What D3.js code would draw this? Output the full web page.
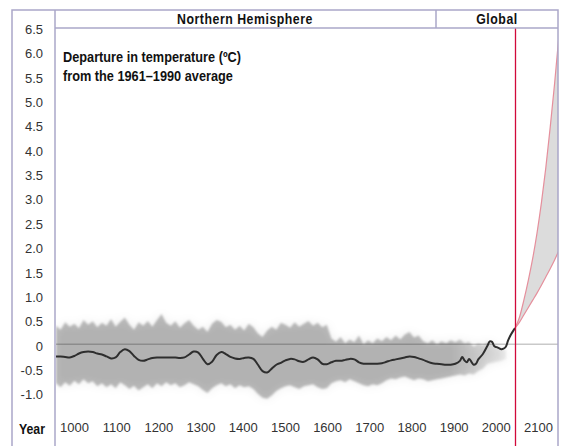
<!DOCTYPE html>
<html>
<head>
<meta charset="utf-8">
<script src="https://cdn.jsdelivr.net/npm/d3@7"></script>
<style>
  body { margin: 0; background: #fff; }
  svg { display: block; }
  .tick text { font-family: "Liberation Sans", Arial, sans-serif; font-size: 13px; fill: #333; }
  .narrow { font-family: "Liberation Sans", Arial, sans-serif; font-weight: bold; fill: #111; }
</style>
</head>
<body>
<svg id="chart" width="561" height="446"></svg>
<script>
// Axis labels
const yearLabels = ["1000", "1100", "1200", "1300", "1400", "1500", "1600", "1700", "1800", "1900", "2000", "2100"];
const yTicks = [6.5, 6.0, 5.5, 5.0, 4.5, 4.0, 3.5, 3.0, 2.5, 2.0, 1.5, 1.0, 0.5, 0, -0.5, -1.0];

// Northern Hemisphere reconstruction (smoothed), departure in ºC
const curveYears = [1000, 1010, 1020, 1030, 1040, 1050, 1060, 1070, 1080, 1090,
  1100, 1110, 1120, 1130, 1140, 1150, 1160, 1170, 1180, 1190,
  1200, 1210, 1220, 1230, 1240, 1250, 1260, 1270, 1280, 1290,
  1300, 1310, 1320, 1330, 1340, 1350, 1360, 1370, 1380, 1390,
  1400, 1410, 1420, 1430, 1440, 1450, 1460, 1470, 1480, 1490,
  1500, 1510, 1520, 1530, 1540, 1550, 1560, 1570, 1580, 1590,
  1600, 1610, 1620, 1630, 1640, 1650, 1660, 1670, 1680, 1690,
  1700, 1710, 1720, 1730, 1740, 1750, 1760, 1770, 1780, 1790,
  1800, 1810, 1820, 1830, 1840, 1850, 1860, 1870, 1880, 1885,
  1890, 1895, 1900, 1905, 1910, 1915, 1920, 1930, 1940, 1945,
  1950, 1955, 1960, 1965, 1970, 1975, 1980, 1985, 1990, 1995, 2000];
const curveValues = [-0.25, -0.25, -0.26, -0.27, -0.24, -0.19, -0.16, -0.15, -0.16, -0.19,
  -0.21, -0.25, -0.29, -0.27, -0.16, -0.10, -0.14, -0.24, -0.32, -0.34,
  -0.31, -0.28, -0.27, -0.27, -0.27, -0.27, -0.27, -0.28, -0.27, -0.21,
  -0.15, -0.17, -0.30, -0.41, -0.36, -0.22, -0.16, -0.20, -0.26, -0.29,
  -0.30, -0.28, -0.27, -0.30, -0.42, -0.55, -0.58, -0.50, -0.42, -0.38,
  -0.33, -0.30, -0.31, -0.35, -0.36, -0.31, -0.27, -0.31, -0.40, -0.41,
  -0.37, -0.34, -0.34, -0.32, -0.30, -0.31, -0.37, -0.40, -0.40, -0.40,
  -0.40, -0.39, -0.36, -0.33, -0.31, -0.29, -0.27, -0.25, -0.26, -0.29,
  -0.32, -0.36, -0.39, -0.40, -0.41, -0.42, -0.42, -0.40, -0.34, -0.26,
  -0.33, -0.37, -0.30, -0.36, -0.42, -0.40, -0.31, -0.20, -0.03, 0.06,
  0.05, -0.04, -0.06, -0.08, -0.10, -0.09, -0.05, 0.08, 0.18, 0.26, 0.33];

// Uncertainty range (annual values, sampled every 10 years)
const bandYears = [1000, 1010, 1020, 1030, 1040, 1050, 1060, 1070, 1080, 1090,
  1100, 1110, 1120, 1130, 1140, 1150, 1160, 1170, 1180, 1190,
  1200, 1210, 1220, 1230, 1240, 1250, 1260, 1270, 1280, 1290,
  1300, 1310, 1320, 1330, 1340, 1350, 1360, 1370, 1380, 1390,
  1400, 1410, 1420, 1430, 1440, 1450, 1460, 1470, 1480, 1490,
  1500, 1510, 1520, 1530, 1540, 1550, 1560, 1570, 1580, 1590,
  1600, 1610, 1620, 1630, 1640, 1650, 1660, 1670, 1680, 1690,
  1700, 1710, 1720, 1730, 1740, 1750, 1760, 1770, 1780, 1790,
  1800, 1810, 1820, 1830, 1840, 1850, 1860, 1870, 1880, 1890,
  1900, 1910, 1920, 1930, 1940, 1950, 1960, 1970, 1980];
const bandUpper = [0.38, 0.30, 0.45, 0.36, 0.42, 0.33, 0.50, 0.40, 0.47, 0.35,
  0.44, 0.38, 0.52, 0.36, 0.46, 0.55, 0.40, 0.30, 0.45, 0.38,
  0.48, 0.36, 0.50, 0.62, 0.44, 0.38, 0.47, 0.34, 0.43, 0.50,
  0.38, 0.30, 0.36, 0.25, 0.42, 0.50, 0.46, 0.35, 0.40, 0.30,
  0.38, 0.28, 0.42, 0.35, 0.22, 0.15, 0.28, 0.36, 0.30, 0.44,
  0.40, 0.34, 0.45, 0.36, 0.42, 0.48, 0.38, 0.44, 0.35, 0.40,
  0.12, 0.05, 0.15, 0.02, 0.10, 0.04, 0.18, 0.00, 0.08, 0.02,
  0.12, 0.06, 0.15, 0.08, 0.18, 0.10, 0.20, 0.25, 0.14, 0.18,
  0.06, 0.02, 0.08, 0.00, 0.06, 0.02, 0.08, 0.04, 0.10, 0.02,
  0.05, -0.05, 0.02, -0.02, 0.05, 0.02, -0.05, -0.08, -0.12];
const bandLower = [-0.80, -0.88, -0.78, -0.85, -0.75, -0.82, -0.72, -0.80, -0.76, -0.86,
  -0.80, -0.88, -0.82, -0.90, -0.78, -0.84, -0.92, -0.85, -0.95, -0.88,
  -0.82, -0.90, -0.80, -0.86, -0.78, -0.84, -0.80, -0.88, -0.84, -0.78,
  -0.82, -0.86, -0.94, -1.00, -0.90, -0.84, -0.80, -0.86, -0.82, -0.90,
  -0.84, -0.88, -0.86, -0.92, -1.02, -1.10, -1.12, -1.05, -0.96, -0.90,
  -0.86, -0.84, -0.88, -0.92, -0.86, -0.84, -0.82, -0.88, -0.92, -0.90,
  -0.80, -0.76, -0.74, -0.78, -0.72, -0.76, -0.80, -0.84, -0.86, -0.82,
  -0.84, -0.80, -0.74, -0.70, -0.72, -0.68, -0.66, -0.70, -0.74, -0.70,
  -0.72, -0.76, -0.74, -0.72, -0.70, -0.68, -0.66, -0.64, -0.62, -0.64,
  -0.60, -0.62, -0.55, -0.50, -0.40, -0.38, -0.36, -0.34, -0.30];

// Global projections, range of all scenarios
const projYears = [2000, 2010, 2020, 2030, 2040, 2050, 2060, 2070, 2080, 2090, 2100];
const projHigh = [0.33, 0.55, 0.90, 1.30, 1.75, 2.28, 2.90, 3.62, 4.45, 5.35, 6.35];
const projLow = [0.33, 0.45, 0.60, 0.75, 0.90, 1.05, 1.21, 1.38, 1.55, 1.73, 1.93];

const svg = d3.select("#chart");
const frameColor = "#aaa7c9";

// Past and future use different horizontal scales, labels are spread evenly
const xPast = d3.scaleLinear().domain([1000, 2000]).range([56, 515]);
const xProj = d3.scaleLinear().domain([2000, 2100]).range([515, 559]);
const xLabel = d3.scalePoint().domain(yearLabels).range([74, 538]);
const y = d3.scaleLinear().domain([-1, 6.5]).range([393, 27.5]);

const defs = svg.append("defs");
defs.append("clipPath").attr("id", "plotClip")
  .append("rect").attr("x", 56).attr("y", 28).attr("width", 502).attr("height", 420);
defs.append("filter").attr("id", "soft").attr("x", "-5%").attr("y", "-50%").attr("width", "110%").attr("height", "200%")
  .append("feGaussianBlur").attr("stdDeviation", 0.8);
defs.append("filter").attr("id", "halo").attr("x", "-5%").attr("y", "-80%").attr("width", "110%").attr("height", "260%")
  .append("feGaussianBlur").attr("stdDeviation", 5);
const grad = defs.append("linearGradient").attr("id", "bandFade")
  .attr("gradientUnits", "userSpaceOnUse")
  .attr("x1", xPast(1860)).attr("x2", xPast(1980)).attr("y1", 0).attr("y2", 0);
grad.append("stop").attr("offset", 0).attr("stop-color", "#000").attr("stop-opacity", 0.25);
grad.append("stop").attr("offset", 1).attr("stop-color", "#000").attr("stop-opacity", 0.06);

const plot = svg.append("g").attr("clip-path", "url(#plotClip)");

// Zero line
plot.append("line")
  .attr("x1", 56).attr("x2", 558)
  .attr("y1", y(0)).attr("y2", y(0))
  .attr("stroke", "#c9c9c9").attr("stroke-width", 1.5);

// Uncertainty band
const band = d3.area()
  .x((d, i) => xPast(bandYears[i]))
  .y0((d, i) => y(bandLower[i]))
  .y1((d, i) => y(bandUpper[i]));

plot.append("path").datum(bandYears)
  .attr("d", band)
  .attr("fill", "#000").attr("fill-opacity", 0.07)
  .attr("filter", "url(#halo)");

plot.append("path").datum(bandYears)
  .attr("d", band)
  .attr("fill", "url(#bandFade)")
  .attr("filter", "url(#soft)");

// Reconstruction line
const recon = d3.line()
  .x((d, i) => xPast(curveYears[i]))
  .y((d, i) => y(curveValues[i]))
  .curve(d3.curveCatmullRom);

plot.append("path").datum(curveYears)
  .attr("d", recon)
  .attr("fill", "none")
  .attr("stroke", "#2e2e2e").attr("stroke-width", 2)
  .attr("stroke-linejoin", "round");

// Projection range
const projArea = d3.area()
  .x((d, i) => xProj(projYears[i]))
  .y0((d, i) => y(projLow[i]))
  .y1((d, i) => y(projHigh[i]))
  .curve(d3.curveMonotoneX);

plot.append("path").datum(projYears)
  .attr("d", projArea)
  .attr("fill", "#dcdcdc");

for (let vals of [projHigh, projLow]) {
  plot.append("path").datum(projYears)
    .attr("d", d3.line()
      .x((d, i) => xProj(projYears[i]))
      .y((d, i) => y(vals[i]))
      .curve(d3.curveMonotoneX))
    .attr("fill", "none")
    .attr("stroke", "#e58f9c").attr("stroke-width", 1.2);
}

// Divider between reconstruction and projection
svg.append("line")
  .attr("x1", xPast(2000) + 0.5).attr("x2", xPast(2000) + 0.5)
  .attr("y1", 28).attr("y2", 446)
  .attr("stroke", "#d1093a").attr("stroke-width", 1.3);

// Frame and header
const frame = svg.append("g").attr("fill", "none").attr("stroke", frameColor).attr("stroke-width", 1.5);
frame.append("rect").attr("x", 12).attr("y", 10).attr("width", 546).attr("height", 450);
frame.append("line").attr("x1", 55).attr("x2", 55).attr("y1", 10).attr("y2", 446);
frame.append("line").attr("x1", 55).attr("x2", 558).attr("y1", 28).attr("y2", 28);
frame.append("line").attr("x1", 436).attr("x2", 436).attr("y1", 10).attr("y2", 28);

// Condensed bold labels: regular bold face squeezed horizontally
function narrowText(x, y, anchor, size, spacing, squeeze, lines) {
  const g = svg.append("g").attr("transform", `translate(${x} ${y}) scale(${squeeze} 1)`);
  const t = g.append("text").attr("class", "narrow")
    .attr("text-anchor", anchor)
    .attr("font-size", size)
    .attr("letter-spacing", spacing);
  lines.forEach((s, i) => t.append("tspan").attr("x", 0).attr("y", i * 19).text(s));
}

narrowText(245, 24, "middle", 14, 0.6, 0.88, ["Northern Hemisphere"]);
narrowText(497, 24, "middle", 14, 0.6, 0.88, ["Global"]);

// Chart note
narrowText(63, 62, "start", 14, 0, 0.91, ["Departure in temperature (ºC)", "from the 1961–1990 average"]);

// Y axis
svg.append("g")
  .attr("transform", "translate(43,0)")
  .call(d3.axisLeft(y).tickValues(yTicks).tickSize(0).tickPadding(0)
    .tickFormat(d => d === 0 ? "0" : d.toFixed(1)))
  .call(g => g.select(".domain").remove())
  .call(g => g.selectAll("text").attr("dy", "0.45em"));

// X axis
svg.append("g")
  .attr("transform", "translate(0,422)")
  .call(d3.axisBottom(xLabel).tickSize(0).tickPadding(0))
  .call(g => g.select(".domain").remove())
  .call(g => g.selectAll("text").attr("dy", "0.75em"));

narrowText(32, 434, "middle", 14, 0, 0.88, ["Year"]);
</script>
</body>
</html>
